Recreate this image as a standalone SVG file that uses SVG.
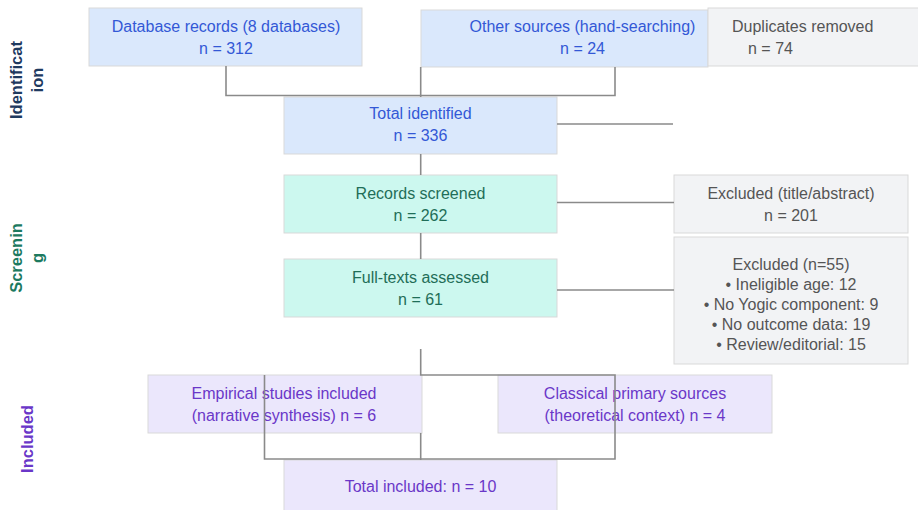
<svg xmlns="http://www.w3.org/2000/svg" width="918" height="510" viewBox="0 0 918 510">
<style>
  text { font-family: "Liberation Sans", Arial, sans-serif; font-size: 16px; text-anchor: middle; }
  .box { stroke: #d9d9d9; stroke-width: 1; }
  .blue rect { fill: #dae8fc; }
  .blue text { fill: #3358d6; }
  .green rect { fill: #ccf8ef; }
  .green text { fill: #1f6e58; }
  .gray rect { fill: #f2f3f5; }
  .gray text { fill: #555555; }
  .purple rect { fill: #ebe7fc; }
  .purple text { fill: #6a37c8; }
  .lane { font-weight: bold; font-size: 16.5px; }
  .edge { fill: none; stroke: #8a8a8a; stroke-width: 1.6; }
</style>
<rect width="918" height="510" fill="#ffffff"/>

<g id="lane-identification"><text class="lane" fill="#1f3a5f" transform="translate(22,80) rotate(-90)">Identificat</text><text class="lane" fill="#1f3a5f" transform="translate(43,80) rotate(-90)">ion</text></g>
<g id="lane-screening"><text class="lane" fill="#1d7a5f" transform="translate(22,258) rotate(-90)">Screenin</text><text class="lane" fill="#1d7a5f" transform="translate(43,258) rotate(-90)">g</text></g>
<g id="lane-included"><text class="lane" fill="#6a37c8" transform="translate(33,439) rotate(-90)">Included</text></g>

<g id="db" class="blue"><rect class="box" x="89" y="8" width="273" height="58"/><text x="226" y="32">Database records (8 databases)</text><text x="226" y="54">n = 312</text></g>
<g id="other" class="blue"><rect class="box" x="421" y="10" width="287" height="57"/><text x="582.5" y="32">Other sources (hand-searching)</text><text x="582.5" y="54">n = 24</text></g>
<g id="dup" class="gray"><rect class="box" x="708" y="8" width="215" height="58"/><text x="732" y="32" style="text-anchor:start">Duplicates removed</text><text x="748" y="54" style="text-anchor:start">n = 74</text></g>

<g id="total" class="blue"><rect class="box" x="284" y="97" width="273" height="57"/><text x="420.5" y="119">Total identified</text><text x="420.5" y="141">n = 336</text></g>

<g id="screened" class="green"><rect class="box" x="284" y="175" width="273" height="58"/><text x="420.5" y="199">Records screened</text><text x="420.5" y="221">n = 262</text></g>
<g id="excl1" class="gray"><rect class="box" x="674" y="175" width="234" height="58"/><text x="791" y="199">Excluded (title/abstract)</text><text x="791" y="221">n = 201</text></g>

<g id="fulltext" class="green"><rect class="box" x="284" y="259" width="273" height="58"/><text x="420.5" y="283">Full-texts assessed</text><text x="420.5" y="305">n = 61</text></g>
<g id="excl2" class="gray"><rect class="box" x="674" y="237" width="234" height="127"/>
<text x="791" y="270">Excluded (n=55)</text>
<text x="791" y="290">• Ineligible age: 12</text>
<text x="791" y="310">• No Yogic component: 9</text>
<text x="791" y="330">• No outcome data: 19</text>
<text x="791" y="350">• Review/editorial: 15</text></g>

<g id="empirical" class="purple"><rect class="box" x="148" y="375" width="274" height="58"/><text x="284" y="399">Empirical studies included</text><text x="284" y="421">(narrative synthesis) n = 6</text></g>
<g id="classical" class="purple"><rect class="box" x="498" y="375" width="274" height="58"/><text x="635" y="399">Classical primary sources</text><text x="635" y="421">(theoretical context) n = 4</text></g>
<g id="included" class="purple"><rect class="box" x="284" y="460" width="273" height="60"/><text x="420.5" y="492">Total included: n = 10</text></g>

<g id="connectors" class="edge">
  <path d="M226 66 V95.5 H615 V67"/>
  <path d="M420.7 67 V97"/>
  <path d="M557 124 H673"/>
  <path d="M420.7 154 V175"/>
  <path d="M557 202.5 H674"/>
  <path d="M420.7 233 V259"/>
  <path d="M557 290 H674"/>
  <path d="M420.7 349 V375 H615 V459 H420.7"/>
  <path d="M264.5 375 V459 H421"/>
  <path d="M420.7 433 V460"/>
</g>
</svg>
